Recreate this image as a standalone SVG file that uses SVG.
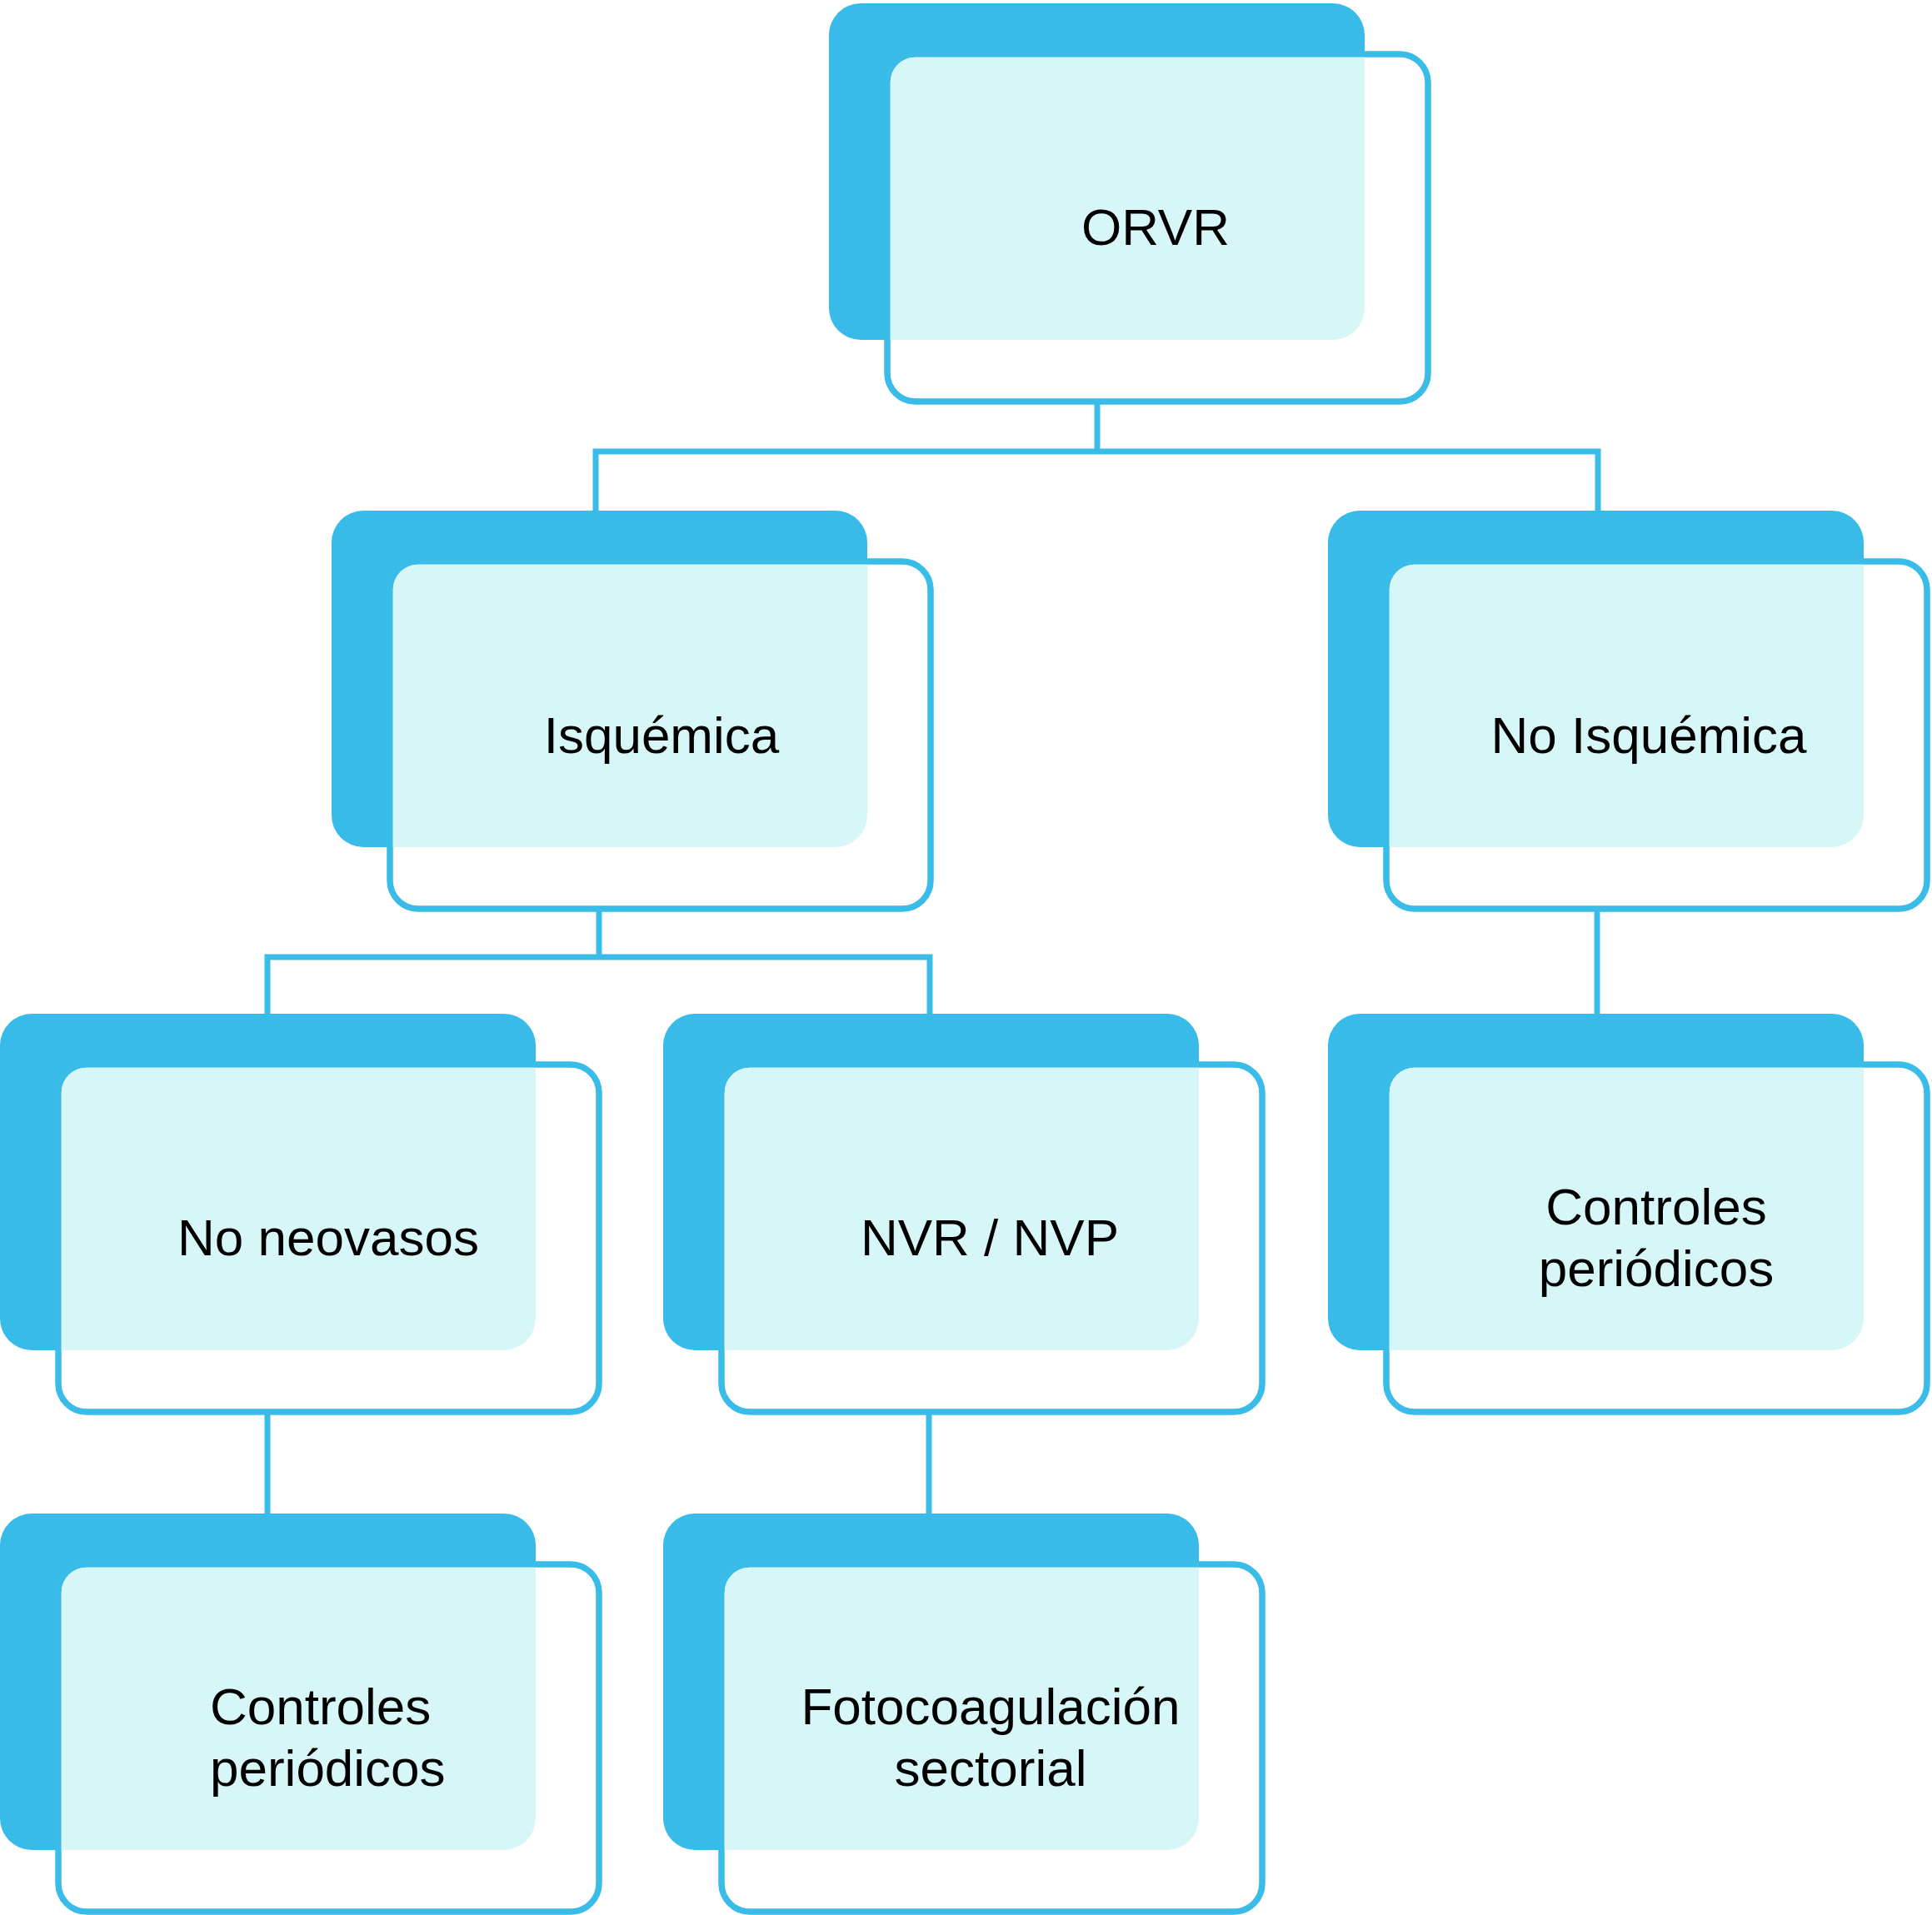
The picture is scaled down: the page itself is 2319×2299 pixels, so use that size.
<svg xmlns="http://www.w3.org/2000/svg" width="2319" height="2299" viewBox="0 0 2319 2299">
<style>
.dark{fill:#38BBE8;}
.front{fill:#FFFFFF;stroke:#3ABCE8;stroke-width:7.5;}
.light{fill:#D7F6F8;}
.conn{fill:none;stroke:#3ABCE8;stroke-width:7;}
.lbl{font-family:"Liberation Sans",Arial,Helvetica,sans-serif;font-size:62px;fill:#000000;}
.mid{text-anchor:middle;}
</style>
<defs>
<g id="box">
<rect class="dark" x="0" y="0" width="643" height="404" rx="38" ry="38"/>
<rect class="front" x="70" y="61" width="649" height="417" rx="34" ry="34"/>
<path class="light" d="M73.75,94.75 A30,30 0 0 1 103.75,64.75 H643 V366 A38,38 0 0 1 605,404 H73.75 Z"/>
</g>
</defs>
<g id="connectors">
<path class="conn" d="M1317,482 V542"/>
<path class="conn" d="M715,613 V542 H1918 V613"/>
<path class="conn" d="M719,1091 V1149"/>
<path class="conn" d="M321,1217 V1149 H1116 V1217"/>
<path class="conn" d="M1917,1091 V1217"/>
<path class="conn" d="M321,1694 V1817"/>
<path class="conn" d="M1115,1694 V1817"/>
</g>
<g id="node-orvr" transform="translate(995,4)">
<use href="#box"/>
<text class="lbl mid" x="392" y="290">ORVR</text>
</g>
<g id="node-isquemica" transform="translate(398,613)">
<use href="#box"/>
<text class="lbl mid" x="396" y="291">Isquémica</text>
</g>
<g id="node-no-isquemica" transform="translate(1594,613)">
<use href="#box"/>
<text class="lbl mid" x="385" y="291">No Isquémica</text>
</g>
<g id="node-no-neovasos" transform="translate(0,1217)">
<use href="#box"/>
<text class="lbl mid" x="394" y="290">No neovasos</text>
</g>
<g id="node-nvr-nvp" transform="translate(796,1217)">
<use href="#box"/>
<text class="lbl mid" x="392" y="290">NVR / NVP</text>
</g>
<g id="node-controles-right" transform="translate(1594,1217)">
<use href="#box"/>
<text class="lbl mid" x="394" y="253">Controles</text>
<text class="lbl mid" x="394" y="327">periódicos</text>
</g>
<g id="node-controles-left" transform="translate(0,1817)">
<use href="#box"/>
<text class="lbl" x="252" y="253">Controles</text>
<text class="lbl" x="252" y="327">periódicos</text>
</g>
<g id="node-fotocoagulacion" transform="translate(796,1817)">
<use href="#box"/>
<text class="lbl mid" x="393" y="253">Fotocoagulación</text>
<text class="lbl mid" x="393" y="327">sectorial</text>
</g>
</svg>
